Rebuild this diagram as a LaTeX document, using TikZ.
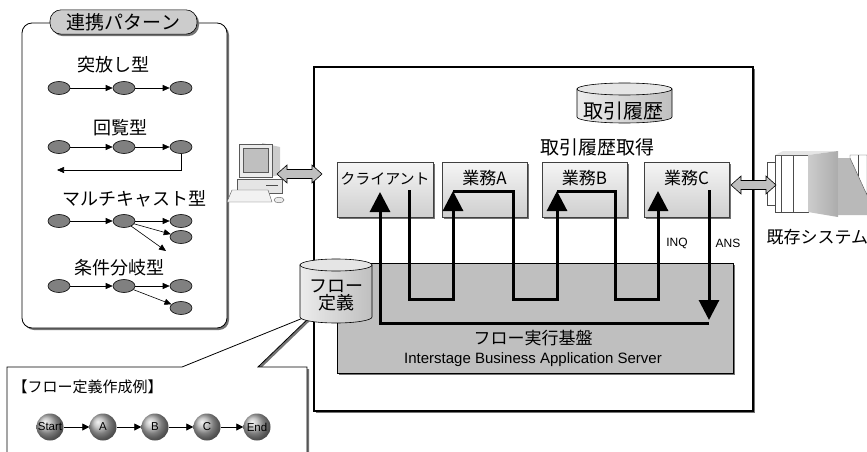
\documentclass[tikz,border=0pt]{standalone}
\usepackage{fontspec}
\setmainfont{Noto Sans CJK JP}
\newfontfamily\arial{Liberation Sans}
\usetikzlibrary{arrows.meta,shapes.geometric,shadows,positioning}

\newcommand\fsz[1]{\fontsize{#1}{#1}\selectfont}

% fat grey double-headed arrow: x1, x2, y
\newcommand\fatarrow[3]{%
  \filldraw[fatarr] (#1,#3) -- (#1+10,#3+9) -- (#1+10,#3+4.5) -- (#2-10,#3+4.5)
    -- (#2-10,#3+9) -- (#2,#3) -- (#2-10,#3-9) -- (#2-10,#3-4.5)
    -- (#1+10,#3-4.5) -- (#1+10,#3-9) -- cycle;}

% drum (database): centre x, top y, width, height
\newcommand\drum[4]{%
  \draw[drumbody] (#1-#3/2,#2-6) -- (#1-#3/2,#2-#4+6)
    arc[start angle=180,end angle=360,x radius=#3/2,y radius=6]
    -- (#1+#3/2,#2-6) -- cycle;
  \draw[drumtop] (#1,#2-6) ellipse[x radius=#3/2,y radius=6];}

\tikzset{
  shad/.style={drop shadow={shadow xshift=2pt,shadow yshift=-2pt,fill=black!55,opacity=1}},
  panel/.style={draw,line width=.8pt,rounded corners=10pt,fill=white,shad},
  pill/.style={draw,line width=.6pt,rounded corners=11pt,fill=gray!40,font=\fsz{19},shad},
  plbl/.style={font=\fsz{18}},
  pe/.style={ellipse,draw,line width=.6pt,fill=gray,minimum width=22pt,minimum height=13pt,inner sep=0pt},
  pa/.style={line width=.6pt,-{Triangle[length=7pt,width=6pt]}},
  frame/.style={draw,line width=1.2pt,fill=white,shad},
  base/.style={draw,line width=.6pt,fill=gray!50,shad},
  task/.style={draw=black!75,line width=.6pt,top color=gray!8,bottom color=gray!38,
    minimum width=85pt,minimum height=55pt,text height=12pt,text depth=22pt,
    font=\fsz{17},shad},
  flow/.style={line width=3pt},
  bigtip/.style={-{Triangle[length=20pt,width=20pt]}},
  drumbody/.style={line width=.6pt,left color=gray!15,right color=gray!50},
  drumtop/.style={line width=.6pt,fill=gray!20},
  fatarr/.style={fill=gray!50,draw,line width=.6pt},
  callout/.style={draw,line width=.8pt,fill=white,shad},
  ball/.style={circle,ball color=gray!60,minimum size=27pt,inner sep=0pt,font=\arial\fsz{11.5}},
  ba/.style={line width=.8pt,-{Triangle[length=7pt,width=7pt]}}
}

\begin{document}
\begin{tikzpicture}[x=1pt,y=1pt]
\useasboundingbox (0,0) rectangle (867,-452);

% patterns panel
\node[panel,minimum width=205pt,minimum height=305pt] (pat) at (124.5,-175.5) {};
\node[pill,minimum width=147pt,minimum height=24pt] (pattl) at (123.5,-22) {連携パターン};

\node[plbl] (t1) at (113,-65) {突放し型};
\node[pe] (p1a) at (59,-88) {};
\node[pe] (p1b) at (124,-88) {};
\node[pe] (p1c) at (181,-88) {};
\draw[pa] (p1a) -- (p1b);
\draw[pa] (p1b) -- (p1c);

\node[plbl] (t2) at (120,-128) {回覧型};
\node[pe] (p2a) at (59,-147) {};
\node[pe] (p2b) at (124,-147) {};
\node[pe] (p2c) at (181,-147) {};
\coordinate (p2r) at (57,-170);
\draw[pa] (p2a) -- (p2b);
\draw[pa] (p2b) -- (p2c);
\draw[pa] (p2c) |- (p2r);

\node[plbl] (t3) at (134,-199) {マルチキャスト型};
\node[pe] (p3a) at (59,-221) {};
\node[pe] (p3b) at (124,-221) {};
\node[pe] (p3c) at (181,-221) {};
\node[pe] (p3d) at (181,-237) {};
\coordinate (p3e) at (166,-251);
\draw[pa] (p3a) -- (p3b);
\draw[pa] (p3b) -- (p3c);
\draw[pa] (p3b) -- (p3d);
\draw[pa] (p3b) -- (p3e);

\node[plbl] (t4) at (119,-268) {条件分岐型};
\node[pe] (p4a) at (59,-286) {};
\node[pe] (p4b) at (124,-286) {};
\node[pe] (p4c) at (181,-286) {};
\node[pe] (p4d) at (181,-308) {};
\draw[pa] (p4a) -- (p4b);
\draw[pa] (p4b) -- (p4c);
\draw[pa] (p4b) -- (p4d);

% main system frame
\node[frame,minimum width=439pt,minimum height=344pt] (main) at (533.5,-239) {};
\node[base,minimum width=396pt,minimum height=110pt] (base) at (535,-318) {};
\node[font=\fsz{17}] (basettl) at (533,-338) {フロー実行基盤};
\node[font=\arial\fsz{15}] (basesub) at (533,-360) {Interstage Business Application Server};

% callout with flow example
\draw[callout] (7,-367) -- (182,-367) -- (313,-314) -- (258,-367) -- (307,-367)
  -- (307,-470) -- (7,-470) -- cycle;
\node[anchor=west,font=\fsz{15}] (extl) at (9,-387) {【フロー定義作成例】};
\node[ball] (s0) at (50,-427) {Start};
\node[ball] (s1) at (103,-427) {A};
\node[ball] (s2) at (155,-427) {B};
\node[ball] (s3) at (207,-427) {C};
\node[ball] (s4) at (257,-427) {End};
\draw[ba] (s0) -- (s1);
\draw[ba] (s1) -- (s2);
\draw[ba] (s2) -- (s3);
\draw[ba] (s3) -- (s4);

% databases
\drum{336}{-259}{72}{64}
\node[align=center,font=\fsz{18}] (fdef) at (336,-295) {フロー\\[-1pt]定義};
\drum{624.5}{-83}{95}{40}
\node[font=\fsz{20}] (hist) at (623,-111) {取引履歴};
\node[font=\fsz{19}] (histget) at (597,-147) {取引履歴取得};

% applications
\node[task,minimum width=92pt,font=\fsz{15}] (client) at (385,-189.5) {クライアント};
\node[task] (gA) at (484.5,-189.5) {業務A};
\node[task] (gB) at (584.5,-189.5) {業務B};
\node[task] (gC) at (686.5,-189.5) {業務C};

% flow through the applications
\coordinate (cl-out) at (409,-190);
\coordinate (cl-in) at (380,-192);
\coordinate (a-in) at (453,-191);
\coordinate (a-out) at (513,-191);
\coordinate (b-in) at (557,-191);
\coordinate (b-out) at (615,-191);
\coordinate (c-in) at (658,-191);
\coordinate (c-out) at (709,-190);
\coordinate (ans) at (709,-320);
\coordinate (ret) at (709,-323);
\coordinate (loop) at (0,-299);
\draw[flow,bigtip] (cl-out) -- (cl-out |- loop) -| (a-in);
\draw[flow,bigtip] (a-in) -- (a-out) -- (a-out |- loop) -| (b-in);
\draw[flow,bigtip] (b-in) -- (b-out) -- (b-out |- loop) -| (c-in);
\draw[flow,bigtip] (c-out) -- (ans);
\draw[flow,bigtip] (ret) -| (cl-in);
\node[font=\arial\fsz{12}] (inq) at (677,-243) {INQ};
\node[font=\arial\fsz{12}] (ansl) at (728,-243) {ANS};

% client PC
\fill[gray!40] (262,-143) -- (280,-147) -- (280,-175) -- (262,-178) -- cycle;
\filldraw[fill=gray!15,draw=gray!70!black,line width=.4pt] (239,-144) rectangle (272,-177);
\filldraw[fill=gray!50,draw=gray!70!black,line width=.4pt] (243,-148) rectangle (268,-172);
\filldraw[fill=gray!20,draw=gray!70!black,line width=.4pt] (237,-179) rectangle (282,-193);
\draw[gray!60!black,line width=.4pt] (266,-185) -- (278,-185);
\filldraw[fill=gray!10,draw=gray!70!black,line width=.4pt] (232,-190) -- (268,-190) -- (272,-202) -- (227,-202) -- cycle;
\filldraw[fill=gray!15,draw=gray!70!black,line width=.4pt] (279,-200) ellipse[x radius=5,y radius=2.8];
\fatarrow{277}{322}{-174}

% legacy system
\filldraw[fill=white,draw=gray!60!black,line width=.4pt] (767,-162) -- (775,-162) -- (775,-155)
  -- (808,-155) -- (808,-212) -- (775,-212) -- (775,-205) -- (767,-205) -- cycle;
\draw[gray!60!black,line width=.4pt] (775,-162) -- (775,-205) (781,-155) -- (781,-212) (793,-155) -- (793,-212);
\fill[gray!20] (775,-155) -- (783,-151) -- (838,-151) -- (808,-155) -- cycle;
\shade[left color=gray!40,right color=gray!65] (808,-155) -- (838,-151) -- (838,-217) -- (808,-212) -- cycle;
\fill[gray!55] (838,-158) -- (850,-158) -- (867,-195) -- (867,-215) -- (838,-215) -- cycle;
\filldraw[fill=white,draw=gray!60!black,line width=.4pt] (850,-155) -- (867,-155) -- (867,-195) -- (850,-158) -- cycle;
\draw[gray!60!black,line width=.4pt] (858,-155) -- (858,-176);
\fatarrow{731}{776}{-185}
\node[anchor=west,font=\fsz{17}] (legacy) at (763,-237) {既存システム};
\end{tikzpicture}
\end{document}
